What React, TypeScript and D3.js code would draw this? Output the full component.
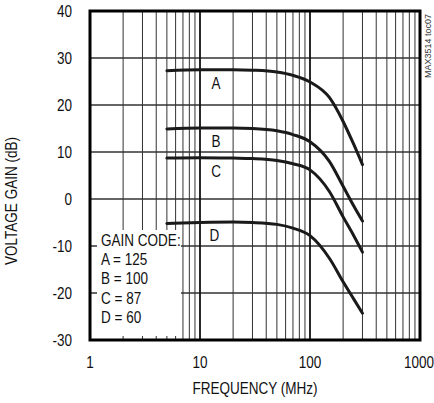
import React from "react";
import * as d3 from "d3";

const freqs = [5, 10, 20, 30, 50, 70, 100, 150, 200, 250, 300];
const gainA = [27.3, 27.5, 27.5, 27.4, 27.0, 26.3, 24.9, 21.6, 16.5, 11.6, 7.3];
const gainB = [14.9, 15.1, 15.1, 15.0, 14.5, 13.7, 12.2, 8.0, 2.7, -1.5, -4.7];
const gainC = [8.7, 8.8, 8.7, 8.6, 8.2, 7.5, 6.2, 1.6, -3.8, -7.8, -11.3];
const gainD = [-5.2, -5.0, -4.9, -5.0, -5.4, -6.2, -7.8, -12.6, -17.6, -21.3, -24.3];
const seriesNames = ["A", "B", "C", "D"];
const labelFreq = [14, 14, 14, 13.5];
const labelGain = [23.4, 11.1, 4.7, -8.9];
const xTicks = [1, 10, 100, 1000];
const yTicks = [40, 30, 20, 10, 0, -10, -20, -30];
const legendLines = ["GAIN CODE:", "A = 125", "B = 100", "C = 87", "D = 60"];

const W = 434;
const H = 403;
const FONT = "'Liberation Sans', Arial, sans-serif";
const SX = 0.82;

function NText(props: {
  x: number;
  y: number;
  anchor?: string;
  rotate?: number;
  size?: number;
  children: React.ReactNode;
}) {
  const { x, y, anchor = "start", rotate = 0, size = 16.5, children } = props;
  return (
    <g transform={`translate(${x},${y}) rotate(${rotate}) scale(${SX},1)`}>
      <text x={0} y={0} textAnchor={anchor} fontFamily={FONT} fontSize={size} fill="#111">
        {children}
      </text>
    </g>
  );
}

export default function App() {
  const x = d3.scaleLog().domain([1, 1000]).range([90, 420]);
  const y = d3.scaleLinear().domain([-30, 40]).range([340, 11]);
  const series = [gainA, gainB, gainC, gainD];

  const line = d3
    .line<number>()
    .x((_, i) => x(freqs[i]))
    .y((d) => y(d))
    .curve(d3.curveMonotoneX);

  const minor: number[] = [];
  for (let dec = 1; dec < 1000; dec *= 10) {
    for (let k = 2; k <= 9; k++) minor.push(dec * k);
  }
  const major = [10, 100];

  return (
    <svg
      width={W}
      height={H}
      style={{ position: "absolute", left: 0, top: 0, background: "#fff" }}
    >
      <rect x={0} y={0} width={W} height={H} fill="#fff" />
      {yTicks.map((t) => (
        <line key={"h" + t} x1={x(1)} x2={x(1000)} y1={y(t)} y2={y(t)} stroke="#333" strokeWidth={1.3} />
      ))}
      {minor.map((f) => (
        <line key={"m" + f} x1={x(f)} x2={x(f)} y1={y(40)} y2={y(-30)} stroke="#333" strokeWidth={1} />
      ))}
      {major.map((f) => (
        <line key={"M" + f} x1={x(f)} x2={x(f)} y1={y(40)} y2={y(-30)} stroke="#111" strokeWidth={1.8} />
      ))}
      <rect x={97} y={230} width={84} height={106} fill="#fff" />
      {legendLines.map((s, i) => (
        <NText key={s} x={101} y={246 + i * 19.2}>
          {s}
        </NText>
      ))}
      {series.map((s, i) => (
        <path key={seriesNames[i]} d={line(s) || ""} fill="none" stroke="#1a1a1a" strokeWidth={3} strokeLinecap="round" />
      ))}
      {seriesNames.map((n, i) => (
        <NText key={"l" + n} x={x(labelFreq[i])} y={y(labelGain[i])} anchor="middle">
          {n}
        </NText>
      ))}
      <rect x={x(1)} y={y(40)} width={x(1000) - x(1)} height={y(-30) - y(40)} fill="none" stroke="#000" strokeWidth={3} />
      {yTicks.map((t) => (
        <NText key={"yt" + t} x={72} y={y(t) + 6} anchor="end">
          {t}
        </NText>
      ))}
      {xTicks.map((t) => (
        <NText key={"xt" + t} x={t === 1000 ? 419 : x(t)} y={368} anchor="middle">
          {t}
        </NText>
      ))}
      <NText x={255} y={394} anchor="middle">
        FREQUENCY (MHz)
      </NText>
      <NText x={17} y={201} anchor="middle" rotate={-90}>
        VOLTAGE GAIN (dB)
      </NText>
      <g transform="translate(431,78) rotate(-90)">
        <text x={0} y={0} fontFamily={FONT} fontSize={9} fill="#333">
          MAX3514 toc07
        </text>
      </g>
    </svg>
  );
}
